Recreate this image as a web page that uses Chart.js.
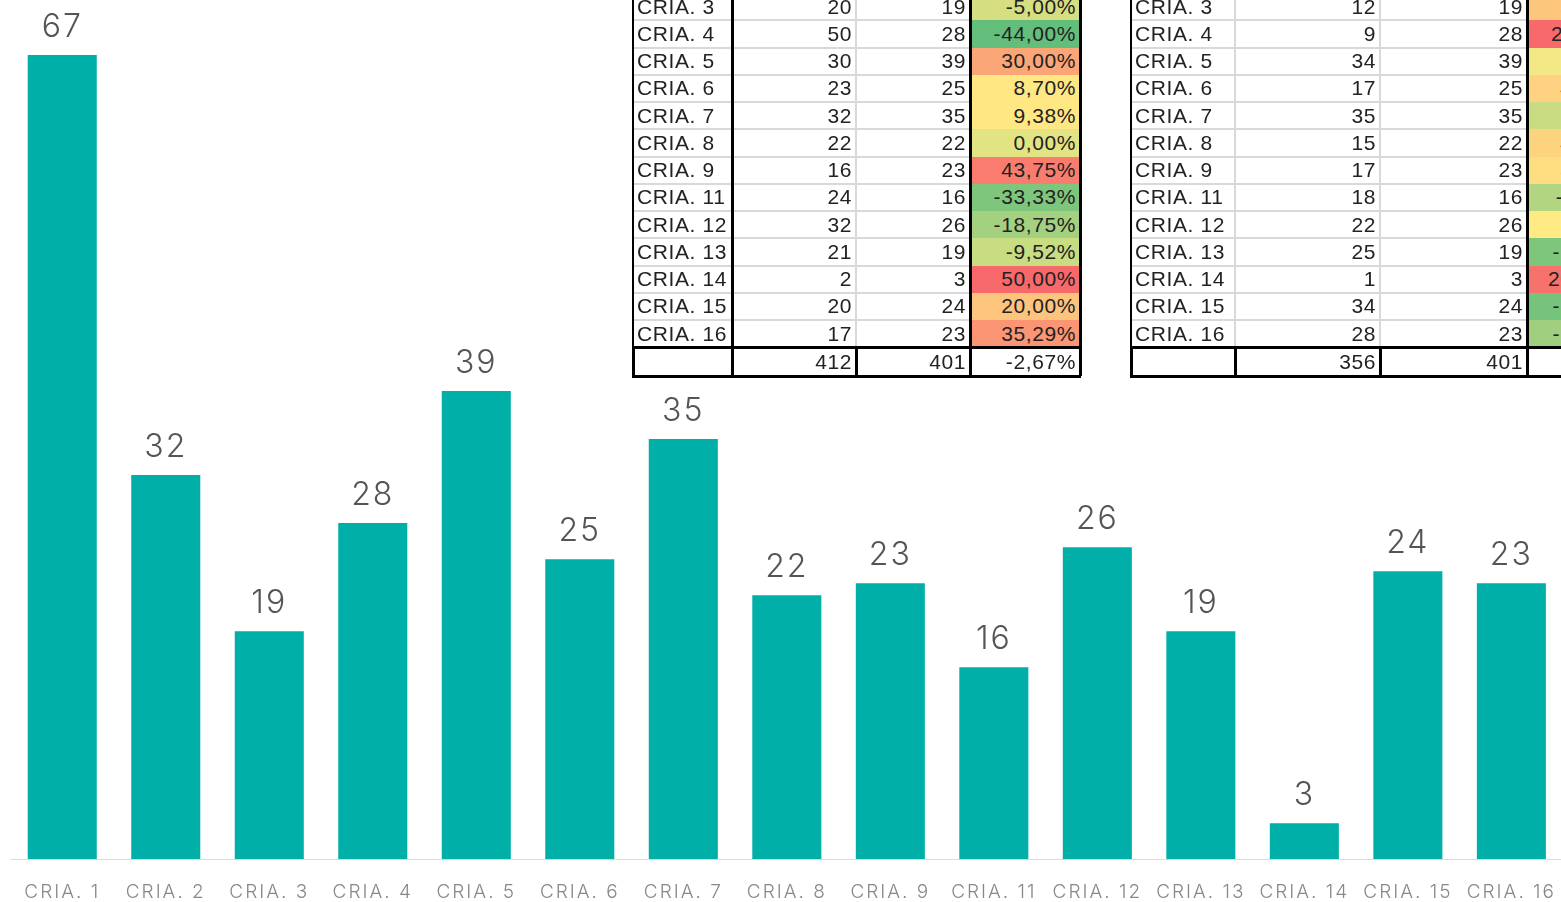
<!DOCTYPE html>
<html>
<head>
<meta charset="utf-8">
<script src="https://cdn.jsdelivr.net/npm/chart.js@4/dist/chart.umd.min.js"></script>
<style>
    html, body { margin: 0; padding: 0; background: #fff; overflow: hidden; }
    #wrap { position: absolute; left: 0; top: 0; width: 1570px; height: 926px; }
    .cell {
        position: absolute; box-sizing: border-box;
        font-family: "Liberation Sans", Arial, sans-serif; font-size: 21px; color: #222;
        letter-spacing: 0.6px;
        white-space: nowrap; overflow: hidden;
        display: flex; align-items: center; padding: 0 4px;
    }
    .num { justify-content: flex-end; }
    .line { position: absolute; }
</style>
</head>
<body>
<div id="wrap"><canvas id="barChart"></canvas></div>
<div id="tables"></div>
<script>
// bar chart data
var categories = ['CRIA. 1', 'CRIA. 2', 'CRIA. 3', 'CRIA. 4', 'CRIA. 5', 'CRIA. 6', 'CRIA. 7', 'CRIA. 8',
    'CRIA. 9', 'CRIA. 11', 'CRIA. 12', 'CRIA. 13', 'CRIA. 14', 'CRIA. 15', 'CRIA. 16'];
var counts = [67, 32, 19, 28, 39, 25, 35, 22, 23, 16, 26, 19, 3, 24, 23];

// table data (rows visible in the picture)
var tableRows = ['CRIA. 3', 'CRIA. 4', 'CRIA. 5', 'CRIA. 6', 'CRIA. 7', 'CRIA. 8', 'CRIA. 9',
    'CRIA. 11', 'CRIA. 12', 'CRIA. 13', 'CRIA. 14', 'CRIA. 15', 'CRIA. 16'];
var t1Before = [20, 50, 30, 23, 32, 22, 16, 24, 32, 21, 2, 20, 17];
var t1After = [19, 28, 39, 25, 35, 22, 23, 16, 26, 19, 3, 24, 23];
var t1Change = ['-5,00%', '-44,00%', '30,00%', '8,70%', '9,38%', '0,00%', '43,75%',
    '-33,33%', '-18,75%', '-9,52%', '50,00%', '20,00%', '35,29%'];
var t1Colors = ['#d5df82', '#63be7b', '#fba677', '#ffe884', '#ffe784', '#e2e383', '#f97c6f',
    '#7fc67d', '#a4d17f', '#c8dc81', '#f8696b', '#fdc47d', '#fb9574'];
var t1Totals = ['412', '401', '-2,67%'];

var t2Before = [12, 9, 34, 17, 35, 15, 17, 18, 22, 25, 1, 34, 28];
var t2After = [19, 28, 39, 25, 35, 22, 23, 16, 26, 19, 3, 24, 23];
var t2Change = ['58,33%', '211,11%', '14,71%', '47,06%', '0,00%', '46,67%', '35,29%',
    '-11,11%', '18,18%', '-24,00%', '200,00%', '-29,41%', '-17,86%'];
var t2Colors = ['#fdc67d', '#f8696b', '#f3e885', '#fed280', '#cadc81', '#fed380', '#fedd81',
    '#b1d580', '#ffea84', '#7fc67d', '#f8726d', '#76c37c', '#a0cf7f'];
var t2Totals = ['356', '401', '12,64%'];

document.addEventListener('DOMContentLoaded', function () {
    renderBarChart();
    renderTable(633, [99, 124, 114, 110], t1Before, t1After, t1Change, t1Colors, t1Totals, [true, false, true]);
    renderTable(1131, [104, 145, 147, 112], t2Before, t2After, t2Change, t2Colors, t2Totals, [false, false, true]);
});

function renderBarChart() {
    var ctx = document.getElementById('barChart').getContext('2d');

    // wider letter spacing for the axis labels
    var spacing = {
        id: 'spacing',
        beforeDraw: function (chart) { chart.ctx.letterSpacing = '2px'; }
    };

    // value labels above the bars
    var valueLabels = {
        id: 'valueLabels',
        afterDatasetsDraw: function (chart) {
            var c = chart.ctx;
            var meta = chart.getDatasetMeta(0);
            c.save();
            c.letterSpacing = '2px';
            c.font = '300 32px Inter, sans-serif';
            c.fillStyle = '#555';
            c.textAlign = 'center';
            c.textBaseline = 'bottom';
            meta.data.forEach(function (bar, i) {
                c.fillText(chart.data.datasets[0].data[i], bar.x, bar.y - 12);
            });
            c.restore();
        }
    };

    new Chart(ctx, {
        type: 'bar',
        data: {
            labels: categories,
            datasets: [{
                data: counts,
                backgroundColor: '#00b0a8',
                borderWidth: 0,
                categoryPercentage: 1,
                barPercentage: 0.667
            }]
        },
        options: {
            responsive: true,
            maintainAspectRatio: false,
            animation: false,
            layout: { padding: { left: 10.5, right: 0, top: 19, bottom: 0 } },
            plugins: { legend: { display: false }, tooltip: { enabled: false } },
            scales: {
                x: {
                    grid: { display: false, drawTicks: false },
                    border: { display: true, color: '#dcdcdc', width: 1 },
                    ticks: {
                        color: '#888',
                        padding: 22,
                        maxRotation: 0,
                        autoSkip: false,
                        font: { family: 'Inter', size: 19, weight: 300 }
                    }
                },
                y: { display: false, min: 0, max: 70 }
            }
        },
        plugins: [spacing, valueLabels]
    });
}

function renderTable(left, widths, before, after, change, colors, totals, blackInner) {
    var host = document.getElementById('tables');
    var top0 = -7, rowH = 27.25;
    var edges = [left];
    widths.forEach(function (w) { edges.push(edges[edges.length - 1] + w); });

    function cell(x, y, w, h, text, cls, bg) {
        var d = document.createElement('div');
        d.className = 'cell ' + (cls || '');
        d.style.left = x + 'px'; d.style.top = y + 'px';
        d.style.width = w + 'px'; d.style.height = h + 'px';
        if (bg) d.style.background = bg;
        d.textContent = text;
        host.appendChild(d);
    }
    function line(x, y, w, h, col) {
        var d = document.createElement('div');
        d.className = 'line';
        d.style.left = x + 'px'; d.style.top = y + 'px';
        d.style.width = w + 'px'; d.style.height = h + 'px';
        d.style.background = col;
        host.appendChild(d);
    }

    var n = tableRows.length;
    for (var i = 0; i < n; i++) {
        var y = top0 + i * rowH;
        cell(edges[3], y, widths[3], rowH, change[i], 'num', colors[i]);
        cell(edges[0], y, widths[0], rowH, tableRows[i], '');
        cell(edges[1], y, widths[1], rowH, before[i], 'num');
        cell(edges[2], y, widths[2], rowH, after[i], 'num');
        if (i > 0) line(edges[0], y - 1, edges[3] - edges[0], 2, '#d9d9d9');
    }
    var totTop = top0 + n * rowH;
    var totH = 29;
    cell(edges[1], totTop, widths[1], totH, totals[0], 'num');
    cell(edges[2], totTop, widths[2], totH, totals[1], 'num');
    cell(edges[3], totTop, widths[3], totH, totals[2], 'num');

    // vertical rules in data rows
    line(edges[0] - 1, top0, 2, totTop - top0, '#000');
    for (var k = 1; k < 4; k++) {
        line(edges[k] - 1, top0, blackInner[k - 1] ? 3 : 2, totTop - top0, blackInner[k - 1] ? '#000' : '#d9d9d9');
    }
    line(edges[4] - 1, top0, 3, totTop - top0, '#000');
    // total row frame
    line(edges[0] - 1, totTop - 1, edges[4] - edges[0] + 2, 3, '#000');
    line(edges[0] - 1, totTop + totH - 1, edges[4] - edges[0] + 2, 3, '#000');
    for (var m = 0; m < 5; m++) line(edges[m] - 1, totTop, 3, totH, '#000');
}
</script>
</body>
</html>
